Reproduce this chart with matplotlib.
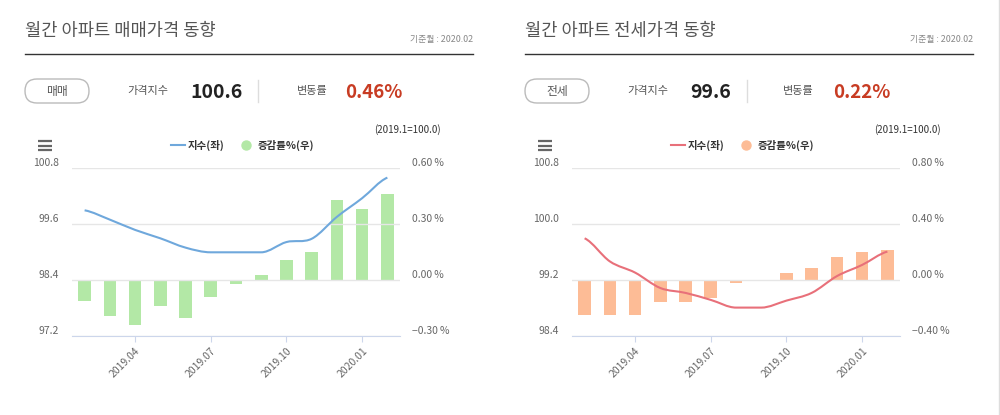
import numpy as np
import matplotlib
matplotlib.use('Agg')
import matplotlib.pyplot as plt
from matplotlib.patches import FancyBboxPatch, PathPatch, Circle
from matplotlib.path import Path

plt.rcParams['font.family'] = ['Noto Sans CJK KR', 'DejaVu Sans']

# ---- data ----
months = ['2019.02', '2019.03', '2019.04', '2019.05', '2019.06', '2019.07', '2019.08',
          '2019.09', '2019.10', '2019.11', '2019.12', '2020.01', '2020.02']
tick_months = ['2019.04', '2019.07', '2019.10', '2020.01']

sale_index = [99.9, 99.7, 99.48, 99.3, 99.1, 99.0, 99.0, 99.0, 99.22, 99.29, 99.76, 100.16, 100.6]
sale_change = [-0.11, -0.19, -0.24, -0.14, -0.20, -0.09, -0.02, 0.03, 0.11, 0.15, 0.43, 0.38, 0.46]

jeonse_index = [99.8, 99.47, 99.31, 99.09, 99.02, 98.92, 98.81, 98.81, 98.91, 99.02, 99.26, 99.42, 99.61]
jeonse_change = [-0.25, -0.25, -0.245, -0.155, -0.155, -0.125, -0.02, 0.0, 0.055, 0.09, 0.17, 0.20, 0.22]

titles = ['월간 아파트 매매가격 동향', '월간 아파트 전세가격 동향']
kinds = ['매매', '전세']
index_now = ['100.6', '99.6']
rate_now = ['0.46%', '0.22%']
left_ticks = [[97.2, 98.4, 99.6, 100.8], [98.4, 99.2, 100.0, 100.8]]
right_ticks = [[-0.30, 0.0, 0.30, 0.60], [-0.40, 0.0, 0.40, 0.80]]

line_colors = ['#6fa8dc', '#e8707a']
bar_colors = ['#b3e8a6', '#fdbc96']
# x positions of header items (value, separator, label, rate) per panel
head_x = [(190, 258, 297, 345), (190, 247, 283, 333)]


def smooth_path(y):
    # bezier through the points, flat tangent at turning points
    x = np.arange(len(y), dtype=float)
    y = np.asarray(y, dtype=float)
    m = np.zeros(len(y))
    for i in range(1, len(y) - 1):
        if (y[i] - y[i - 1]) * (y[i + 1] - y[i]) > 0:
            m[i] = (y[i + 1] - y[i - 1]) / 2
    m[0] = (y[1] - y[0]) * 0.5
    m[-1] = (y[-1] - y[-2]) * 0.5
    verts = [(x[0], y[0])]
    codes = [Path.MOVETO]
    for i in range(len(y) - 1):
        verts += [(x[i] + 1 / 3, y[i] + m[i] / 3),
                  (x[i + 1] - 1 / 3, y[i + 1] - m[i + 1] / 3),
                  (x[i + 1], y[i + 1])]
        codes += [Path.CURVE4] * 3
    return Path(verts, codes)


fig = plt.figure(figsize=(10, 4.15), dpi=100)
bg = fig.add_axes([0, 0, 1, 1])
bg.set_xlim(0, 1000)
bg.set_ylim(415, 0)
bg.axis('off')
bg.plot([998.5, 998.5], [0, 415], color='#dddddd', lw=1)

series = [(sale_index, sale_change), (jeonse_index, jeonse_change)]

for p in range(2):
    dx = 500 * p
    idx, chg = series[p]
    vx, sx, lx, rx = head_x[p]

    # header
    bg.text(25 + dx, 31, titles[p], fontsize=12.7, color='#555555', va='center')
    bg.text(473 + dx, 39.5, '기준월 : 2020.02', fontsize=6.4, color='#888888',
            ha='right', va='center')
    bg.plot([25 + dx, 473 + dx], [54.5, 54.5], color='#333333', lw=1)
    bg.add_patch(FancyBboxPatch((25 + dx, 79), 64, 24,
                                boxstyle='round,pad=0,rounding_size=12',
                                fc='white', ec='#bbbbbb', lw=1))
    bg.text(57 + dx, 91, kinds[p], fontsize=8.5, color='#555555', ha='center', va='center')
    bg.text(127 + dx, 91, '가격지수', fontsize=8, color='#555555', va='center')
    bg.text(vx + dx, 92, index_now[p], fontsize=14, fontweight='bold', color='#222222',
            va='center')
    bg.plot([sx + dx, sx + dx], [80, 102], color='#dddddd', lw=1)
    bg.text(lx + dx, 91, '변동률', fontsize=8, color='#555555', va='center')
    bg.text(rx + dx, 92, rate_now[p], fontsize=13.5, fontweight='bold', color='#c83c23',
            va='center')

    # menu icon
    for yy in (141.5, 146, 150.5):
        bg.plot([37.5 + dx, 51.5 + dx], [yy, yy], color='#666666', lw=1.6,
                solid_capstyle='butt')

    # legend
    bg.plot([171 + dx, 185 + dx], [145.5, 145.5], color=line_colors[p], lw=1.5)
    bg.text(188 + dx, 145.5, '지수(좌)', fontsize=7.5, color='#333333', fontweight='bold',
            va='center')
    bg.add_patch(Circle((246.5 + dx, 145.5), 4.5, color=bar_colors[p]))
    bg.text(258 + dx, 145.5, '증감률%(우)', fontsize=7.5, color='#333333', fontweight='bold',
            va='center')
    bg.text(440.5 + dx, 130, '(2019.1=100.0)', fontsize=7, color='#333333',
            ha='right', va='center')

    # chart
    ax = fig.add_axes([(72 + dx) / 1000, (415 - 336.3) / 415, 328 / 1000, 168 / 415])
    axb = ax.twinx()
    ax.set_zorder(axb.get_zorder() + 1)
    ax.patch.set_visible(False)

    x = np.arange(len(months))
    axb.bar(x, chg, width=0.5, color=bar_colors[p], zorder=2)
    ax.add_patch(PathPatch(smooth_path(idx), fc='none', ec=line_colors[p], lw=1.5))

    lt = left_ticks[p]
    rt = right_ticks[p]
    ax.set_ylim(lt[0], lt[-1])
    axb.set_ylim(rt[0], rt[-1])
    ax.set_xlim(-0.5, len(months) - 0.5)

    ax.set_yticks(lt)
    ax.set_yticklabels(['%.1f' % v for v in lt])
    axb.set_yticks(rt)
    axb.set_yticklabels([('%.2f' % v).replace('-', '\u2212') + '\u2009%' for v in rt])
    for a in (ax, axb):
        for s in a.spines.values():
            s.set_visible(False)
    ax.spines['bottom'].set_visible(True)
    ax.spines['bottom'].set_color('#ccd6eb')
    ax.grid(axis='y', color='#e6e6e6', lw=1)
    ax.set_axisbelow(True)

    ax.tick_params(axis='y', length=0, pad=9.5, labelsize=7.5, labelcolor='#666666')
    axb.tick_params(axis='y', length=0, pad=8.5, labelsize=7.5, labelcolor='#666666')
    for lab in ax.get_yticklabels() + axb.get_yticklabels():
        lab.set_verticalalignment('bottom')

    tpos = [months.index(m) for m in tick_months]
    ax.set_xticks(tpos)
    ax.set_xticklabels(tick_months, rotation=45, ha='right', rotation_mode='anchor')
    ax.tick_params(axis='x', length=4, color='#ccd6eb', pad=3, labelsize=7.5,
                   labelcolor='#666666')

fig.savefig('out.png', dpi=100, facecolor='white')
